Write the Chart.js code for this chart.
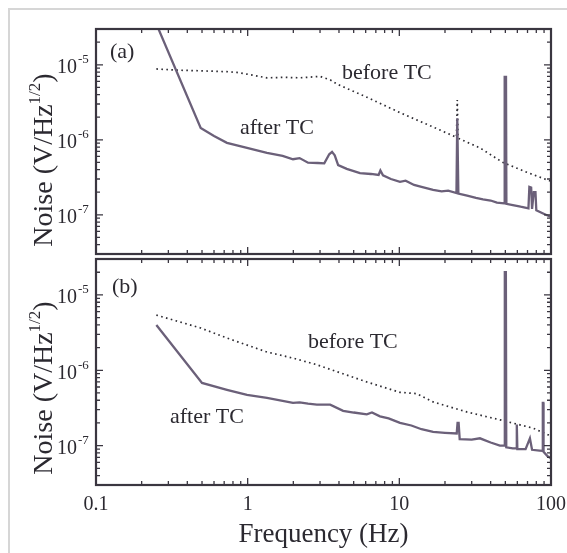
<!DOCTYPE html>
<html>
<head>
<meta charset="utf-8">
<script src="https://cdn.jsdelivr.net/npm/chart.js@4.4.0/dist/chart.umd.min.js"></script>
<style>
html, body { margin: 0; padding: 0; background: #fff; }
#wrap { position: relative; width: 567px; height: 553px; overflow: hidden; }
#edge { position: absolute; left: 8px; top: 8px; width: 620px; height: 620px;
        border-left: 2px solid #d6d6d6; border-top: 2px solid #d6d6d6; }
canvas { position: absolute; left: 0; top: 0; }
</style>
</head>
<body>
<div id="wrap">
  <div id="edge"></div>
  <canvas id="chartA" width="567" height="553"></canvas>
  <canvas id="chartB" width="567" height="553"></canvas>
</div>
<script>
// axis ticks
const xTicks = [0.1, 1, 10, 100];
const yTicks = [1e-7, 1e-6, 1e-5];
const yTickExp = ['-7', '-6', '-5'];

// panel (a), after TC (solid)
const freqA_after = [0.25, 0.49, 0.6, 0.73, 0.99, 1.34, 1.7, 1.99, 2.2, 2.5, 2.9, 3.2, 3.45, 3.6, 3.75, 3.95,
  4.5, 5.5, 6.5, 7.3, 7.5, 7.8, 8.8, 10.1, 11, 12.5, 14, 16.7, 19, 21, 23.8, 24.1, 24.5, 28, 32, 35.6,
  40, 44, 49.2, 49.5, 50.5, 50.8, 56, 63, 71, 72, 74, 75, 77, 79, 80, 88, 98, 100];
const noiseA_after = [3.5e-5, 1.44e-6, 1.12e-6, 9.1e-7, 7.8e-7, 6.7e-7, 6.1e-7, 5.5e-7, 5.7e-7, 4.95e-7, 4.9e-7, 4.85e-7, 6.4e-7, 6.9e-7, 6.2e-7, 4.6e-7,
  4.1e-7, 3.6e-7, 3.5e-7, 3.4e-7, 3.9e-7, 3.35e-7, 3.0e-7, 2.75e-7, 2.85e-7, 2.5e-7, 2.35e-7, 2.15e-7, 2.05e-7, 2.1e-7, 1.95e-7, 1.94e-6, 1.92e-7, 1.8e-7, 1.68e-7, 1.6e-7,
  1.55e-7, 1.45e-7, 1.42e-7, 6.9e-6, 6.9e-6, 1.4e-7, 1.35e-7, 1.28e-7, 1.22e-7, 2.35e-7, 2.3e-7, 1.2e-7, 2.0e-7, 2.0e-7, 1.15e-7, 1.05e-7, 9.5e-8, 9.5e-8];

// panel (a), before TC (dotted)
const freqA_before = [0.25, 0.34, 0.49, 0.73, 0.85, 0.99, 1.34, 1.76, 2.2, 3.0, 3.5, 3.9, 6.1, 10.1, 16.7,
  23.8, 24.1, 24.4, 34, 48, 69, 95, 100];
const noiseA_before = [8.8e-6, 8.5e-6, 8.3e-6, 8.1e-6, 7.9e-6, 7.5e-6, 6.7e-6, 6.8e-6, 6.7e-6, 7.0e-6, 6.3e-6, 5.5e-6, 3.7e-6, 2.3e-6, 1.48e-6,
  1.08e-6, 3.4e-6, 1.05e-6, 7.8e-7, 5.0e-7, 3.7e-7, 2.9e-7, 2.8e-7];

// panel (b), after TC (solid)
const freqB_after = [0.25, 0.5, 0.73, 0.99, 1.34, 1.99, 2.2, 2.5, 2.86, 3.5, 4.26, 5, 6.1, 6.6, 7.45, 8.5,
  10.1, 12, 14, 16.7, 20, 23.9, 24.2, 24.6, 25, 30, 34, 40, 46, 49.4, 49.6, 50.4, 50.7, 56, 59, 59.5, 60,
  68, 72.6, 75, 84, 88, 88.3, 89, 89.3, 95, 100];
const noiseB_after = [4.0e-6, 6.8e-7, 5.5e-7, 4.7e-7, 4.3e-7, 3.7e-7, 3.75e-7, 3.6e-7, 3.5e-7, 3.5e-7, 2.9e-7, 2.75e-7, 2.6e-7, 2.75e-7, 2.45e-7, 2.3e-7,
  2.0e-7, 1.85e-7, 1.65e-7, 1.52e-7, 1.48e-7, 1.45e-7, 2.0e-7, 2.0e-7, 1.22e-7, 1.2e-7, 1.25e-7, 1.1e-7, 1.0e-7, 1.0e-7, 2.0e-5, 2.0e-5, 9.5e-8, 9.2e-8, 9.2e-8, 1.9e-7, 9.0e-8,
  9.0e-8, 1.25e-7, 8.8e-8, 8.6e-8, 8.5e-8, 3.7e-7, 3.7e-7, 8.3e-8, 7.2e-8, 6.8e-8];

// panel (b), before TC (dotted)
const freqB_before = [0.25, 0.49, 0.73, 0.99, 1.34, 1.99, 2.8, 3.64, 6.1, 10.1, 13, 16.7, 27.8, 46, 76.5, 95, 100];
const noiseB_before = [5.4e-6, 3.64e-6, 2.68e-6, 2.16e-6, 1.75e-6, 1.45e-6, 1.2e-6, 1.0e-6, 7.0e-7, 5.1e-7, 4.9e-7, 3.8e-7, 2.8e-7, 2.2e-7, 1.7e-7, 1.4e-7, 1.35e-7];

const FONT = '"Liberation Serif", "Times New Roman", serif';
const INK = '#2b2930';
const TRACE = '#6b6079';

function pts(xs, ys) {
    return xs.map((x, i) => ({ x: x, y: ys[i] }));
}

// frame with inward ticks, y labels, y title and notes
const framePlugin = {
    id: 'frame',
    afterDatasetsDraw(chart, args, opts) {
        const { ctx, chartArea: a, scales: { x, y } } = chart;
        ctx.save();
        ctx.strokeStyle = '#3a3640';
        ctx.lineWidth = 1.3;
        ctx.beginPath();
        for (let d = -1; d <= 2; d++) {
            for (let m = 1; m <= 9; m++) {
                const v = m * Math.pow(10, d);
                if (v < x.min * 0.999 || v > x.max * 1.001) continue;
                const px = x.getPixelForValue(v);
                const len = m === 1 ? 7 : 4;
                ctx.moveTo(px, a.bottom); ctx.lineTo(px, a.bottom - len);
                ctx.moveTo(px, a.top); ctx.lineTo(px, a.top + len);
            }
        }
        for (let d = -8; d <= -5; d++) {
            for (let m = 1; m <= 9; m++) {
                const v = m * Math.pow(10, d);
                if (v < y.min * 0.999 || v > y.max * 1.001) continue;
                const py = y.getPixelForValue(v);
                const len = m === 1 ? 7 : 4;
                ctx.moveTo(a.left, py); ctx.lineTo(a.left + len, py);
                ctx.moveTo(a.right, py); ctx.lineTo(a.right - len, py);
            }
        }
        ctx.stroke();
        ctx.lineWidth = 2.2;
        ctx.strokeRect(a.left, a.top, a.right - a.left, a.bottom - a.top);

        // y tick labels 10^n
        ctx.fillStyle = INK;
        ctx.textBaseline = 'middle';
        yTicks.forEach((v, i) => {
            const py = y.getPixelForValue(v);
            ctx.font = '20px ' + FONT;
            ctx.textAlign = 'right';
            ctx.fillText('10', 77, py + 3);
            ctx.font = '13px ' + FONT;
            ctx.textAlign = 'left';
            ctx.fillText(yTickExp[i], 78, py - 5);
        });

        // y title with superscript
        ctx.save();
        ctx.translate(52, opts.titleY);
        ctx.rotate(-Math.PI / 2);
        ctx.textBaseline = 'alphabetic';
        ctx.textAlign = 'left';
        ctx.font = '28px ' + FONT;
        const w1 = ctx.measureText('Noise (V/Hz').width;
        const w3 = ctx.measureText(')').width;
        ctx.font = '17px ' + FONT;
        const w2 = ctx.measureText('1/2').width;
        const s = -(w1 + w2 + w3) / 2;
        ctx.font = '28px ' + FONT;
        ctx.fillText('Noise (V/Hz', s, 0);
        ctx.fillText(')', s + w1 + w2, 0);
        ctx.font = '17px ' + FONT;
        ctx.fillText('1/2', s + w1, -12);
        ctx.restore();

        // notes inside the panel
        ctx.font = '22px ' + FONT;
        ctx.textAlign = 'left';
        ctx.textBaseline = 'middle';
        opts.notes.forEach(n => ctx.fillText(n.text, n.x, n.y));
        ctx.restore();
    }
};

function makeChart(id, after, before, padding, showX, plug) {
    return new Chart(document.getElementById(id), {
        type: 'line',
        data: {
            datasets: [
                {
                    label: 'after TC',
                    data: after,
                    borderColor: TRACE,
                    borderWidth: 2.3,
                    pointRadius: 0,
                    tension: 0
                },
                {
                    label: 'before TC',
                    data: before,
                    borderColor: '#2e2c33',
                    borderWidth: 1.7,
                    borderDash: [1.6, 3.4],
                    pointRadius: 0,
                    tension: 0
                }
            ]
        },
        options: {
            responsive: false,
            animation: false,
            events: [],
            layout: { padding: padding },
            scales: {
                x: {
                    type: 'logarithmic',
                    min: 0.1,
                    max: 100,
                    display: showX,
                    afterBuildTicks: (s) => { s.ticks = xTicks.map(v => ({ value: v })); },
                    afterFit: (s) => {
                        s.height = showX ? 66 : 0;
                        s.paddingLeft = 0;
                        s.paddingRight = 0;
                    },
                    grid: { display: false, drawTicks: false },
                    border: { display: false },
                    ticks: {
                        padding: 8,
                        color: INK,
                        font: { family: FONT, size: 20 },
                        maxRotation: 0,
                        callback: (v) => String(v)
                    },
                    title: {
                        display: true,
                        text: 'Frequency (Hz)',
                        color: INK,
                        padding: 0,
                        font: { family: FONT, size: 27 }
                    }
                },
                y: {
                    type: 'logarithmic',
                    min: 3e-8,
                    max: 3e-5,
                    display: false
                }
            },
            plugins: {
                legend: { display: false },
                tooltip: { enabled: false },
                frame: plug
            }
        },
        plugins: [framePlugin]
    });
}

makeChart('chartA', pts(freqA_after, noiseA_after), pts(freqA_before, noiseA_before),
    { left: 96, right: 16, top: 29, bottom: 299 }, false,
    { titleY: 160, notes: [
        { text: '(a)', x: 110, y: 52 },
        { text: 'before TC', x: 342, y: 73 },
        { text: 'after TC', x: 240, y: 128 }
    ] });

makeChart('chartB', pts(freqB_after, noiseB_after), pts(freqB_before, noiseB_before),
    { left: 96, right: 16, top: 259, bottom: 2 }, true,
    { titleY: 388, notes: [
        { text: '(b)', x: 112, y: 287 },
        { text: 'before TC', x: 308, y: 342 },
        { text: 'after TC', x: 170, y: 417 }
    ] });
</script>
</body>
</html>
